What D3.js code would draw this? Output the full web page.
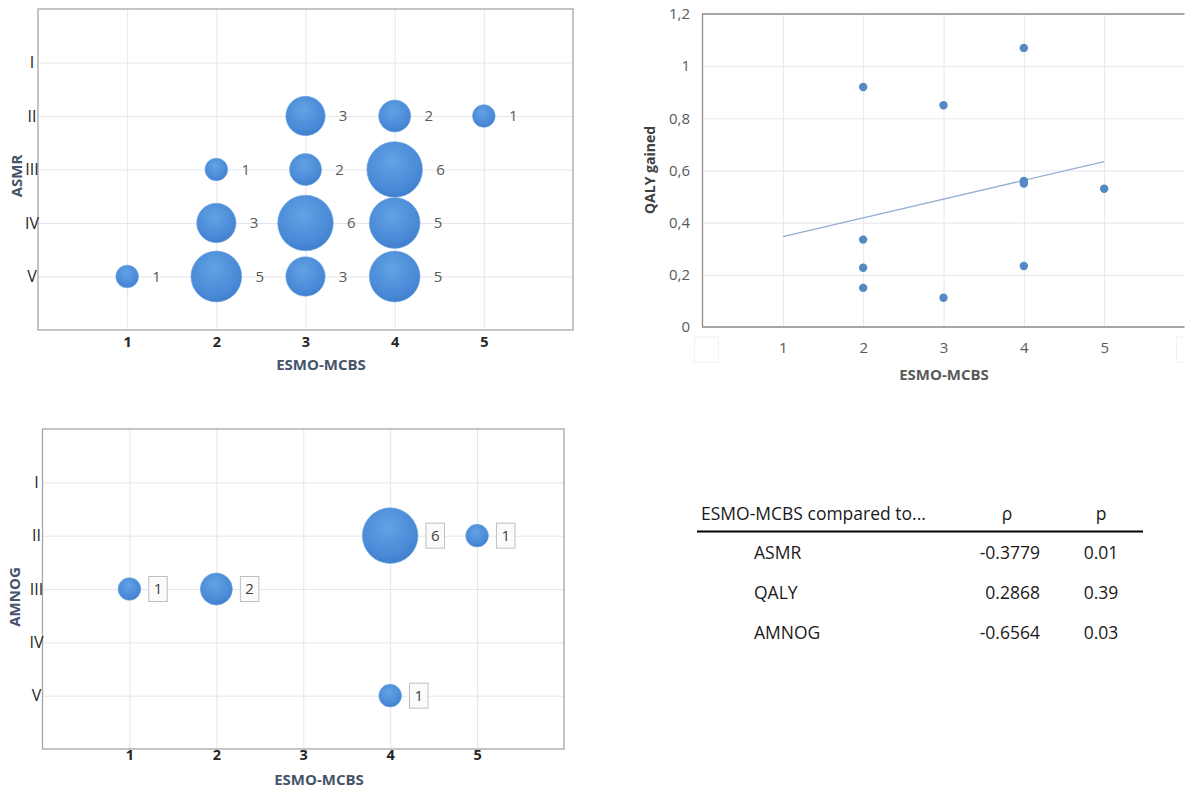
<!DOCTYPE html>
<html><head><meta charset="utf-8">
<script src="https://cdn.jsdelivr.net/npm/d3@7"></script>
<style>body{margin:0;background:#fff;} svg{display:block;font-family:'Open Sans',sans-serif;}</style>
</head><body><svg id="c" width="1185" height="789"></svg>
<script>
// ---------- data ----------
const romanLevels = ["I","II","III","IV","V"];
const levelValues = [1,2,3,4,5];
const esmoTicks = [1,2,3,4,5];
// ASMR bubble chart
const asmrScore = [1,2,2,2,3,3,3,3,4,4,4,4,5];
const asmrLevel = [5,3,4,5,2,3,4,5,2,3,4,5,2];
const asmrCount = [1,1,3,5,3,2,6,3,2,6,5,5,1];
// QALY scatter
const qalyScore = [2,2,2,2,3,3,4,4,4,4,5];
const qalyGain  = [0.92,0.335,0.227,0.15,0.85,0.112,1.07,0.56,0.55,0.234,0.53];
const qalyTicks = [0,0.2,0.4,0.6,0.8,1,1.2];
// AMNOG bubble chart
const amnogScore = [1,2,4,5,4];
const amnogLevel = [3,3,2,2,5];
const amnogCount = [1,2,6,1,1];
// table
const tableHeader = ["ESMO-MCBS compared to...","ρ","p"];
const tableRows = ["ASMR","QALY","AMNOG"];
const tableRho = ["-0.3779","0.2868","-0.6564"];
const tableP = ["0.01","0.39","0.03"];

const FONT = "'Open Sans', sans-serif";
const svg = d3.select("#c");
const defs = svg.append("defs");
const grad = defs.append("radialGradient").attr("id","bub").attr("cx","45%").attr("cy","35%").attr("r","70%");
grad.append("stop").attr("offset","0%").attr("stop-color","#62a2e4");
grad.append("stop").attr("offset","70%").attr("stop-color","#4a8ad7");
grad.append("stop").attr("offset","100%").attr("stop-color","#3c7cca");

const gridCol = "#e3e6ec";
const borderCol = "#a6a6a6";

function bubbleChart(o){
  const x = d3.scaleLinear().domain([0,6]).range([o.x0,o.x1]);
  const y = d3.scaleLinear().domain([0,6]).range([o.y0,o.y1]);
  const r = d3.scaleSqrt().domain([0,6]).range([0,27.8]);
  const g = svg.append("g");
  g.append("g").attr("transform",`translate(0,${o.y1})`)
    .call(d3.axisBottom(x).tickValues(esmoTicks).tickSize(-(o.y1-o.y0)).tickFormat(""))
    .call(s=>{s.select(".domain").remove(); s.selectAll("line").attr("stroke",gridCol);});
  g.append("g").attr("transform",`translate(${o.x0},0)`)
    .call(d3.axisLeft(y).tickValues(levelValues).tickSize(-(o.x1-o.x0)).tickFormat(""))
    .call(s=>{s.select(".domain").remove(); s.selectAll("line").attr("stroke",gridCol);});
  g.append("rect").attr("x",o.x0).attr("y",o.y0).attr("width",o.x1-o.x0).attr("height",o.y1-o.y0)
    .attr("fill","none").attr("stroke",borderCol).attr("stroke-width",1.3);
  g.append("g").attr("transform",`translate(0,${o.y1})`)
    .call(d3.axisBottom(x).tickValues(esmoTicks).tickSize(0).tickPadding(o.xTickPad).tickFormat(d3.format("d")))
    .call(s=>{s.select(".domain").remove(); s.selectAll("text").attr("font-size",14.5).attr("font-weight","bold").attr("fill","#262626").attr("font-family",FONT);});
  g.append("g").attr("transform",`translate(${o.x0},0)`)
    .call(d3.axisLeft(y).tickValues(levelValues).tickSize(0).tickPadding(0).tickFormat((d,i)=>romanLevels[i]))
    .call(s=>{s.select(".domain").remove(); s.selectAll("text").attr("font-size",16).attr("fill","#262626").attr("text-anchor","middle").attr("x",-6).attr("font-family",FONT);});
  g.append("text").attr("x",o.xTitleX).attr("y",o.xTitleY).attr("dy","0.35em").attr("text-anchor","middle")
    .attr("font-size",15).attr("font-weight","bold").attr("fill","#44546a").text("ESMO-MCBS");
  g.append("text").attr("transform",`translate(${o.yTitleX},${o.yTitleY}) rotate(-90)`).attr("dy","0.35em")
    .attr("text-anchor","middle").attr("font-size",15).attr("font-weight","bold").attr("fill","#44546a").text(o.yTitle);
  const data = o.scores.map((s,i)=>({s, l:o.levels[i], c:o.counts[i]}));
  g.selectAll("circle.b").data(data).join("circle").attr("class","b")
    .attr("cx",d=>x(d.s)).attr("cy",d=>y(d.l)).attr("r",d=>r(d.c))
    .attr("fill","url(#bub)").attr("stroke","#6fa8e6").attr("stroke-width",0.6);
  if(o.boxed){
    const lg = g.selectAll("g.lab").data(data).join("g").attr("class","lab")
      .attr("transform",d=>`translate(${x(d.s)+r(d.c)+8},${y(d.l)})`);
    lg.append("rect").attr("x",0).attr("y",-12.5).attr("width",18.5).attr("height",25)
      .attr("fill","#fbfbfb").attr("stroke","#bfbfbf").attr("stroke-width",1);
    lg.append("text").attr("x",9.25).attr("dy","0.35em").attr("text-anchor","middle")
      .attr("font-size",15).attr("fill","#404040").text(d=>d.c);
  } else {
    g.selectAll("text.lab").data(data).join("text").attr("class","lab")
      .attr("x",d=>x(d.s)+r(d.c)+18).attr("y",d=>y(d.l)).attr("dy","0.35em").attr("text-anchor","middle")
      .attr("font-size",15).attr("fill","#595959").text(d=>d.c);
  }
}

bubbleChart({x0:38,x1:573,y0:9,y1:330,scores:asmrScore,levels:asmrLevel,counts:asmrCount,
  yTitle:"ASMR",yTitleX:17,yTitleY:176,xTitleX:321,xTitleY:365,xTickPad:7,boxed:false});
bubbleChart({x0:42.5,x1:564,y0:429,y1:749,scores:amnogScore,levels:amnogLevel,counts:amnogCount,
  yTitle:"AMNOG",yTitleX:15,yTitleY:597,xTitleX:319,xTitleY:780,xTickPad:1,boxed:true});

// ---------- QALY scatter ----------
(function(){
  const x0=702.5,x1=1184.5,y0=14,y1=327;
  const x = d3.scaleLinear().domain([0,6]).range([x0,x1]);
  const y = d3.scaleLinear().domain([0,1.2]).range([y1,y0]);
  const g = svg.append("g");
  g.append("g").attr("transform",`translate(0,${y1})`)
    .call(d3.axisBottom(x).tickValues(esmoTicks).tickSize(-(y1-y0)).tickFormat(""))
    .call(s=>{s.select(".domain").remove(); s.selectAll("line").attr("stroke",gridCol);});
  g.append("g").attr("transform",`translate(${x0},0)`)
    .call(d3.axisLeft(y).tickValues(qalyTicks).tickSize(-(x1-x0)).tickFormat(""))
    .call(s=>{s.select(".domain").remove(); s.selectAll("line").attr("stroke",gridCol);});
  g.append("path").attr("d",`M${x1},${y0}H${x0}V${y1}H${x1}`).attr("fill","none").attr("stroke","#8f8f8f").attr("stroke-width",1.3);
  g.selectAll("rect.ph").data([0,6]).join("rect").attr("class","ph")
    .attr("x",d=>x(d)-8).attr("y",337).attr("width",24).attr("height",25)
    .attr("fill","none").attr("stroke","#f0f0f0");
  const fmt = d=> String(d3.format("~g")(d)).replace(".",",");
  g.append("g").attr("transform",`translate(0,${y1})`)
    .call(d3.axisBottom(x).tickValues(esmoTicks).tickSize(0).tickPadding(15).tickFormat(d3.format("d")))
    .call(s=>{s.select(".domain").remove(); s.selectAll("text").attr("font-size",15).attr("fill","#595959").attr("font-family",FONT);});
  g.append("g").attr("transform",`translate(690,0)`)
    .call(d3.axisLeft(y).tickValues(qalyTicks).tickSize(0).tickPadding(0).tickFormat(fmt))
    .call(s=>{s.select(".domain").remove(); s.selectAll("text").attr("font-size",15).attr("fill","#595959").attr("font-family",FONT);});
  g.append("text").attr("x",944).attr("y",375).attr("dy","0.35em").attr("text-anchor","middle")
    .attr("font-size",15).attr("font-weight","bold").attr("fill","#595959").text("ESMO-MCBS");
  g.append("text").attr("transform",`translate(650,170) rotate(-90)`).attr("dy","0.35em").attr("text-anchor","middle")
    .attr("font-size",14).attr("font-weight","bold").attr("fill","#404040").text("QALY gained");
  // least-squares trendline from x=1 to x=5
  const mx = d3.mean(qalyScore), my = d3.mean(qalyGain);
  const sxy = d3.sum(qalyScore.map((v,i)=>(v-mx)*(qalyGain[i]-my)));
  const sxx = d3.sum(qalyScore.map(v=>(v-mx)*(v-mx)));
  const b = sxy/sxx, a = my-b*mx;
  const ext = d3.extent(qalyScore.concat([1]));
  g.append("line").attr("x1",x(ext[0])).attr("y1",y(a+b*ext[0])).attr("x2",x(ext[1])).attr("y2",y(a+b*ext[1]))
    .attr("stroke","#96b0d2").attr("stroke-width",1.3);
  g.selectAll("circle").data(qalyScore.map((s,i)=>({s,v:qalyGain[i]}))).join("circle")
    .attr("cx",d=>x(d.s)).attr("cy",d=>y(d.v)).attr("r",4.2).attr("fill","#5589c3");
})();

// ---------- table ----------
(function(){
  const g = svg.append("g").attr("font-size",17.5).attr("fill","#1a1a1a");
  const colX = d3.scaleOrdinal().domain(tableHeader).range([701,1007,1101]);
  const rowY = d3.scaleLinear().domain([0,2]).range([553,633]);
  g.append("text").attr("x",colX(tableHeader[0])).attr("y",514).attr("dy","0.35em").text(tableHeader[0]);
  g.append("text").attr("x",colX(tableHeader[1])).attr("y",514).attr("dy","0.35em").attr("text-anchor","middle").text(tableHeader[1]);
  g.append("text").attr("x",colX(tableHeader[2])).attr("y",514).attr("dy","0.35em").attr("text-anchor","middle").text(tableHeader[2]);
  g.append("line").attr("x1",697).attr("x2",1143).attr("y1",531.5).attr("y2",531.5).attr("stroke","#000").attr("stroke-width",1.8);
  tableRows.forEach((row,i)=>{
    g.append("text").attr("x",754).attr("y",rowY(i)).attr("dy","0.35em").text(row);
    g.append("text").attr("x",1040).attr("y",rowY(i)).attr("dy","0.35em").attr("text-anchor","end").text(tableRho[i]);
    g.append("text").attr("x",1101).attr("y",rowY(i)).attr("dy","0.35em").attr("text-anchor","middle").text(tableP[i]);
  });
})();
</script></body></html>
